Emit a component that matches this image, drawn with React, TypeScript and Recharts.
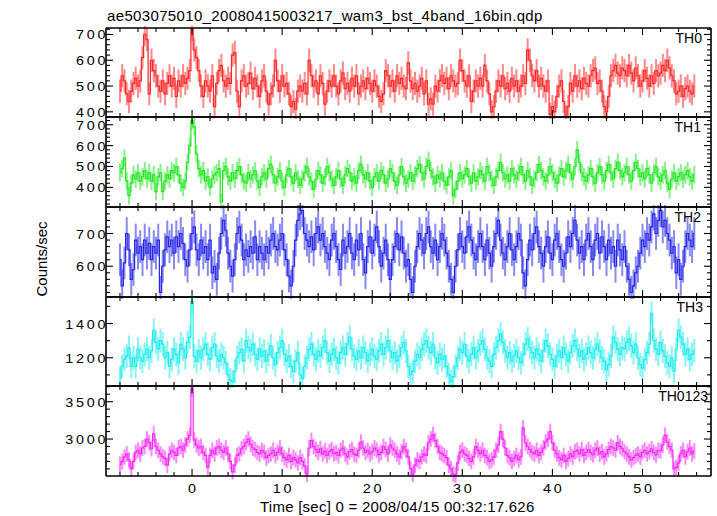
import React from 'react';
import { LineChart, Line, XAxis, YAxis, ErrorBar } from 'recharts';

// ---- data (0.25 s bins starting at t = -8.0 s) ----
const T0 = -8.0;
const BIN = 0.25;

const th0 = [
  480, 540, 520, 470, 440, 480, 510, 530, 500, 520, 610, 700, 680, 470, 600, 560,
  540, 500, 480, 520, 470, 510, 540, 500, 530, 460, 520, 500, 540, 510, 530, 560,
  720, 640, 610, 560, 500, 460, 520, 500, 480, 540, 420, 510, 560, 580, 520, 500,
  530, 510, 620, 630, 480, 420, 520, 540, 500, 510, 550, 490, 530, 500, 460, 520,
  540, 480, 430, 470, 500, 600, 520, 480, 540, 500, 510, 470, 420, 440, 410, 480,
  500, 480, 510, 470, 600, 540, 500, 520, 470, 540, 510, 430, 480, 520, 500, 540,
  500, 470, 520, 550, 490, 510, 480, 530, 500, 540, 470, 500, 520, 490, 530, 510,
  480, 520, 500, 460, 440, 470, 560, 540, 500, 520, 480, 540, 510, 530, 500, 490,
  590, 520, 490, 510, 480, 500, 530, 470, 520, 430, 450, 430, 500, 480, 520, 540,
  510, 530, 490, 540, 520, 500, 510, 600, 560, 520, 500, 540, 440, 480, 520, 500,
  530, 500, 580, 520, 470, 400, 420, 480, 520, 500, 540, 490, 510, 480, 530, 500,
  520, 480, 500, 540, 510, 640, 600, 540, 520, 560, 500, 530, 500, 480, 520, 390,
  420, 400, 460, 500, 520, 440, 380, 420, 510, 480, 540, 500, 520, 490, 530, 510,
  500, 540, 560, 570, 510, 520, 480, 420, 400, 460, 540, 560, 580, 550, 540, 570,
  560, 540, 580, 550, 520, 570, 540, 500, 520, 560, 530, 500, 540, 510, 560, 540,
  550, 580, 560, 600, 570, 540, 520, 470, 480, 500, 460, 490, 500, 480, 470, 500,
];

const th1 = [
  470, 490, 540, 430, 360, 420, 460, 440, 470, 430, 450, 480, 440, 470, 430, 460,
  380, 450, 470, 380, 430, 460, 440, 480, 470, 500, 460, 420, 400, 430, 520, 600,
  720, 690, 560, 490, 460, 480, 430, 450, 400, 440, 460, 470, 490, 330, 480, 500,
  450, 430, 470, 440, 480, 500, 460, 430, 420, 470, 440, 460, 480, 430, 400, 450,
  470, 440, 490, 510, 460, 420, 450, 480, 430, 400, 460, 490, 450, 420, 470, 440,
  410, 440, 470, 500, 450, 430, 390, 440, 480, 460, 420, 450, 500, 470, 440, 410,
  450, 480, 440, 410, 460, 490, 470, 430, 450, 420, 480, 510, 460, 440, 470, 430,
  400, 450, 470, 430, 480, 460, 420, 440, 490, 470, 430, 410, 460, 500, 450, 420,
  440, 470, 430, 460, 490, 510, 470, 440, 500, 530, 480, 450, 420, 460, 440, 470,
  430, 410, 450, 480, 360, 390, 430, 470, 440, 460, 490, 450, 420, 470, 430, 450,
  480, 460, 430, 500, 470, 440, 410, 450, 480, 520, 470, 440, 460, 430, 490, 460,
  440, 470, 500, 460, 430, 480, 450, 410, 440, 470, 510, 480, 450, 430, 460, 500,
  470, 440, 420, 460, 490, 450, 480, 510, 470, 440, 500, 580, 520, 470, 450, 430,
  460, 490, 450, 420, 470, 500, 460, 430, 480, 510, 470, 440, 490, 520, 480, 450,
  470, 500, 460, 430, 480, 520, 490, 450, 470, 440, 490, 460, 420, 470, 500, 450,
  430, 460, 480, 420, 390, 440, 470, 430, 450, 470, 440, 460, 480, 450, 430, 460,
];

const th2 = [
  620, 540, 610, 700, 650, 560, 590, 680, 640, 660, 620, 680, 640, 670, 620, 660,
  640, 680, 520, 600, 650, 690, 660, 680, 640, 690, 660, 700, 670, 620, 600, 650,
  700, 720, 650, 620, 680, 640, 660, 620, 680, 580, 600, 560, 640, 700, 740, 710,
  640, 600, 570, 620, 700, 720, 680, 620, 650, 630, 660, 640, 690, 620, 660, 640,
  620, 660, 640, 680, 700, 660, 650, 680, 700, 650, 620, 570, 540, 600, 680, 740,
  760, 770, 700, 680, 660, 690, 650, 700, 720, 680, 700, 660, 640, 620, 680, 700,
  660, 620, 590, 680, 640, 660, 700, 640, 620, 680, 650, 700, 620, 580, 660, 690,
  640, 680, 720, 660, 600, 640, 680, 620, 560, 620, 660, 700, 650, 690, 640, 600,
  620, 560, 520, 600, 660, 700, 680, 640, 700, 720, 660, 640, 680, 620, 660, 700,
  680, 640, 600, 560, 520, 600, 650, 700, 660, 640, 690, 720, 680, 640, 620, 660,
  700, 660, 620, 680, 640, 600, 660, 700, 740, 680, 640, 620, 660, 700, 650, 620,
  660, 700, 680, 580, 540, 620, 680, 650, 700, 720, 660, 640, 600, 660, 690, 640,
  620, 680, 700, 660, 620, 600, 640, 690, 660, 700, 740, 680, 640, 660, 620, 680,
  700, 660, 620, 680, 700, 640, 690, 660, 620, 680, 640, 660, 600, 680, 650, 620,
  660, 600, 560, 520, 540, 580, 600, 640, 680, 660, 700, 680, 720, 760, 700, 740,
  770, 720, 740, 700, 680, 640, 660, 580, 620, 560, 600, 660, 700, 680, 660, 700,
];

const th3 = [
  1080, 1150, 1190, 1210, 1260, 1150, 1200, 1150, 1250, 1200, 1180, 1220, 1250, 1200, 1240, 1360,
  1290, 1250, 1300, 1280, 1200, 1230, 1150, 1190, 1250, 1220, 1170, 1280, 1250, 1200, 1290, 1320,
  1530, 1210, 1180, 1240, 1200, 1250, 1280, 1220, 1190, 1260, 1280, 1210, 1180, 1220, 1200, 1170,
  1100, 1070, 1060, 1120, 1200, 1230, 1250, 1180, 1300, 1260, 1240, 1280, 1220, 1190, 1250, 1210,
  1240, 1180, 1220, 1270, 1200, 1160, 1230, 1260, 1300, 1220, 1180, 1210, 1150, 1120, 1180, 1230,
  1100, 1080, 1150, 1200, 1250, 1280, 1220, 1190, 1240, 1210, 1260, 1300, 1230, 1180, 1220, 1250,
  1200, 1170, 1230, 1260, 1220, 1280, 1320, 1250, 1210, 1190, 1240, 1200, 1260, 1230, 1180, 1220,
  1250, 1210, 1190, 1240, 1280, 1220, 1260, 1300, 1240, 1200, 1230, 1180, 1210, 1260, 1290, 1240,
  1150, 1100, 1120, 1180, 1220, 1200, 1250, 1280, 1300, 1260, 1230, 1280, 1200, 1170, 1220, 1190,
  1210, 1150, 1100, 1060, 1090, 1150, 1200, 1250, 1230, 1280, 1210, 1180, 1220, 1260, 1200, 1240,
  1280, 1300, 1250, 1200, 1180, 1150, 1220, 1260, 1300, 1340, 1290, 1240, 1200, 1230, 1180, 1210,
  1240, 1200, 1170, 1220, 1280, 1310, 1260, 1230, 1200, 1250, 1220, 1180, 1240, 1300, 1270, 1220,
  1190, 1150, 1210, 1240, 1200, 1260, 1220, 1180, 1230, 1270, 1300, 1250, 1210, 1240, 1190, 1220,
  1260, 1230, 1200, 1250, 1280, 1240, 1200, 1180, 1130, 1160, 1210, 1320, 1290, 1250, 1220, 1260,
  1250, 1290, 1310, 1270, 1230, 1280, 1200, 1160, 1140, 1190, 1230, 1280, 1460, 1300, 1250, 1220,
  1290, 1240, 1210, 1170, 1150, 1200, 1120, 1250, 1360, 1320, 1280, 1220, 1250, 1190, 1220, 1240,
];

const th0123 = [
  2660, 2700, 2760, 2800, 2720, 2600, 2700, 2820, 2850, 2800, 2880, 2900, 3000, 2950, 2870, 3070,
  2900, 2850, 2800, 2760, 2740, 2650, 2800, 2850, 2820, 2780, 2880, 2900, 2850, 2920, 3000, 3050,
  3680, 2990, 2920, 2880, 2900, 2820, 2780, 2620, 2780, 2850, 2800, 2880, 2900, 2850, 2820, 2880,
  2800, 2700, 2560, 2650, 2780, 2800, 2870, 2900, 2950, 3000, 2930, 2880, 2860, 2820, 2800, 2850,
  2820, 2750, 2780, 2800, 2850, 2780, 2820, 2880, 2800, 2750, 2720, 2780, 2700, 2750, 2720, 2680,
  2750, 2700, 2640, 2530, 2880, 2980, 2900, 2860, 2820, 2870, 2800, 2840, 2780, 2830, 2860, 2800,
  2820, 2780, 2850, 2880, 2800, 2760, 2830, 2860, 2800, 2780, 2850, 2960, 2880, 2820, 2850, 2800,
  2830, 2880, 2850, 2790, 2820, 2900, 2860, 2800, 2920, 2880, 2850, 2800, 2760, 2830, 2900, 2850,
  2760, 2600, 2530, 2650, 2720, 2700, 2760, 2800, 2780, 2950, 3000, 3060, 2980, 2900, 2820, 2800,
  2780, 2750, 2650, 2600, 2530, 2520, 2680, 2820, 2850, 2800, 2780, 2740, 2700, 2760, 2900, 2850,
  2800, 2850, 2780, 2750, 2700, 2720, 2760, 2850, 2920, 3100, 3000, 2880, 2780, 2750, 2700, 2740,
  2780, 2720, 2760, 3150, 2950, 2900, 2860, 2820, 2800, 2850, 2780, 2820, 2880, 2960, 3000, 3100,
  2950, 2850, 2800, 2750, 2720, 2780, 2700, 2740, 2800, 2760, 2830, 2850, 2800, 2860, 2780, 2820,
  2860, 2820, 2790, 2850, 2880, 2800, 2830, 2760, 2800, 2860, 2900, 2880, 2850, 2950, 2900, 2870,
  2830, 2800, 2760, 2720, 2750, 2780, 2800, 2760, 2820, 2850, 2800, 2830, 2870, 2820, 2790, 2850,
  2840, 2920, 3050, 2960, 2900, 2850, 2600, 2620, 2680, 2800, 2850, 2760, 2830, 2880, 2800, 2840,
];

// typical 1-sigma error per band (counts/sec)
const errTH0 = 45;
const errTH1 = 42;
const errTH2 = 50;
const errTH3 = 70;
const errTH0123 = 105;

const xMajor = [0, 10, 20, 30, 40, 50];
const xMinor = [-8, -6, -4, -2, 2, 4, 6, 8, 12, 14, 16, 18, 22, 24, 26, 28, 32, 34, 36, 38, 42, 44, 46, 48, 52, 54, 56];

const TITLE = 'ae503075010_20080415003217_wam3_bst_4band_16bin.qdp';
const XLABEL = 'Time [sec] 0 = 2008/04/15 00:32:17.626';
const YLABEL = 'Counts/sec';

// ---- layout / style ----
const W = 717;
const H = 516;
const XDOM: [number, number] = [-9.55, 57.6];
const FONT = '"Liberation Sans", Arial, Helvetica, sans-serif';
const FRAME = { stroke: '#000', strokeWidth: 1.6 };
const TICK_FS = 12.5;
const TICK_LS = 2.4;
const TICK_SX = 1.15;

const xTicks = [...xMajor, ...xMinor].sort((a, b) => a - b);

function range(a: number, b: number, s: number) {
  const out: number[] = [];
  for (let v = a; v <= b + 1e-9; v += s) out.push(Math.round(v * 1000) / 1000);
  return out;
}

type PanelCfg = {
  name: string;
  values: number[];
  err: number;
  color: string;
  domain: [number, number];
  yMajor: number[];
  yStep: number;
  top: number;
  bottom: number;
  labelX: number;
  last?: boolean;
};

const panels: PanelCfg[] = [
  { name: 'TH0', values: th0, err: errTH0, color: '#ff2626', domain: [380, 725], yMajor: [400, 500, 600, 700], yStep: 20, top: 28, bottom: 117, labelX: 702 },
  { name: 'TH1', values: th1, err: errTH1, color: '#22e822', domain: [306, 737], yMajor: [400, 500, 600, 700], yStep: 20, top: 117, bottom: 207, labelX: 701 },
  { name: 'TH2', values: th2, err: errTH2, color: '#2626e8', domain: [506, 781], yMajor: [600, 700], yStep: 20, top: 207, bottom: 297, labelX: 701 },
  { name: 'TH3', values: th3, err: errTH3, color: '#22ecec', domain: [1035, 1555], yMajor: [1200, 1400], yStep: 100, top: 297, bottom: 386, labelX: 703 },
  { name: 'TH0123', values: th0123, err: errTH0123, color: '#f826f8', domain: [2505, 3710], yMajor: [3000, 3500], yStep: 100, top: 386, bottom: 476, labelX: 708, last: true },
];

const XTick = (props: any) => {
  const { x, y, payload, dir, labels } = props;
  const v = payload?.value;
  const major = xMajor.includes(v);
  const len = major ? 7 : 4;
  return (
    <g>
      <line x1={x} x2={x} y1={y} y2={y + dir * len} stroke="#000" strokeWidth={1.1} />
      {labels && major ? (
        <text
          transform={`translate(${x + (TICK_LS * TICK_SX) / 2},${y + 16.7}) scale(${TICK_SX},1)`}
          textAnchor="middle"
          fontFamily={FONT}
          fontSize={TICK_FS}
          letterSpacing={TICK_LS}
          fill="#000"
        >
          {v}
        </text>
      ) : null}
    </g>
  );
};

const YTick = (props: any) => {
  const { x, y, payload, dir, majors, labels } = props;
  const v = payload?.value;
  const major = majors.includes(v);
  const len = major ? 7 : 4;
  return (
    <g>
      <line x1={x} x2={x + dir * len} y1={y} y2={y} stroke="#000" strokeWidth={1.1} />
      {labels && major ? (
        <text
          transform={`translate(${x + 2.3},${y + 5}) scale(${TICK_SX},1)`}
          textAnchor="end"
          fontFamily={FONT}
          fontSize={TICK_FS}
          letterSpacing={TICK_LS}
          fill="#000"
        >
          {v}
        </text>
      ) : null}
    </g>
  );
};

function Panel({ cfg }: { cfg: PanelCfg }) {
  const data = cfg.values.map((v, i) => ({ t: T0 + i * BIN, v, e: cfg.err }));
  const padTop = 2;
  const bottomAxisH = cfg.last ? 40 : 1;
  const plotH = cfg.bottom - cfg.top;
  const height = padTop + plotH + bottomAxisH + 1;
  const lo = Math.ceil(cfg.domain[0] / cfg.yStep + 1e-6) * cfg.yStep;
  const yTicks = range(lo, cfg.domain[1], cfg.yStep).filter((v) => v > cfg.domain[0] && v < cfg.domain[1]);
  return (
    <div style={{ position: 'absolute', left: 0, top: cfg.top - padTop }}>
      <LineChart width={W} height={height} data={data} margin={{ top: padTop - 1, right: 0, bottom: 1, left: 0 }}>
        <XAxis
          xAxisId="b"
          dataKey="t"
          type="number"
          domain={XDOM}
          allowDataOverflow
          orientation="bottom"
          height={bottomAxisH}
          ticks={xTicks}
          interval={0}
          tickSize={0}
          tickMargin={0}
          tickLine={false}
          axisLine={FRAME}
          tick={(p: any) => <XTick {...p} dir={-1} labels={!!cfg.last} />}
        />
        <XAxis
          xAxisId="t"
          dataKey="t"
          type="number"
          domain={XDOM}
          allowDataOverflow
          orientation="top"
          height={1}
          ticks={xTicks}
          interval={0}
          tickSize={0}
          tickMargin={0}
          tickLine={false}
          axisLine={FRAME}
          tick={(p: any) => <XTick {...p} dir={1} labels={false} />}
        />
        <YAxis
          yAxisId="l"
          type="number"
          domain={cfg.domain}
          allowDataOverflow
          orientation="left"
          width={106}
          ticks={yTicks}
          interval={0}
          tickSize={0}
          tickMargin={0}
          tickLine={false}
          axisLine={FRAME}
          tick={(p: any) => <YTick {...p} dir={1} majors={cfg.yMajor} labels />}
        />
        <YAxis
          yAxisId="r"
          type="number"
          domain={cfg.domain}
          allowDataOverflow
          orientation="right"
          width={6}
          ticks={yTicks}
          interval={0}
          tickSize={0}
          tickMargin={0}
          tickLine={false}
          axisLine={FRAME}
          tick={(p: any) => <YTick {...p} dir={-1} majors={cfg.yMajor} labels={false} />}
        />
        <Line xAxisId="b" yAxisId="l" dataKey="v" stroke="none" dot={false} isAnimationActive={false}>
          <ErrorBar dataKey="e" width={0} stroke={cfg.color} strokeOpacity={0.55} strokeWidth={2} direction="y" />
        </Line>
        <Line
          xAxisId="b"
          yAxisId="l"
          type="step"
          dataKey="v"
          stroke={cfg.color}
          strokeWidth={1.2}
          dot={false}
          isAnimationActive={false}
        />
        <Line xAxisId="t" yAxisId="r" dataKey="v" stroke="none" dot={false} isAnimationActive={false} />
      </LineChart>
    </div>
  );
}

export default function App() {
  return (
    <div style={{ position: 'absolute', left: 0, top: 0, width: W, height: H, background: '#fff', overflow: 'hidden' }}>
      {panels.map((p) => (
        <Panel key={p.name} cfg={p} />
      ))}
      <svg width={W} height={H} style={{ position: 'absolute', left: 0, top: 0, pointerEvents: 'none' }}>
        <text x={107} y={20.5} fontFamily={FONT} fontSize={15} letterSpacing={0.35} fill="#000">
          {TITLE}
        </text>
        <text x={260} y={511.5} fontFamily={FONT} fontSize={15} letterSpacing={0.25} fill="#000">
          {XLABEL}
        </text>
        <text
          x={46.5}
          y={259}
          fontFamily={FONT}
          fontSize={15}
          textAnchor="middle"
          fill="#000"
          transform="rotate(-90 46.5 259)"
        >
          {YLABEL}
        </text>
        {panels.map((p) => (
          <text key={p.name} x={p.labelX} y={p.top + 15.3} fontFamily={FONT} fontSize={14} textAnchor="end" fill="#000">
            {p.name}
          </text>
        ))}
      </svg>
    </div>
  );
}
